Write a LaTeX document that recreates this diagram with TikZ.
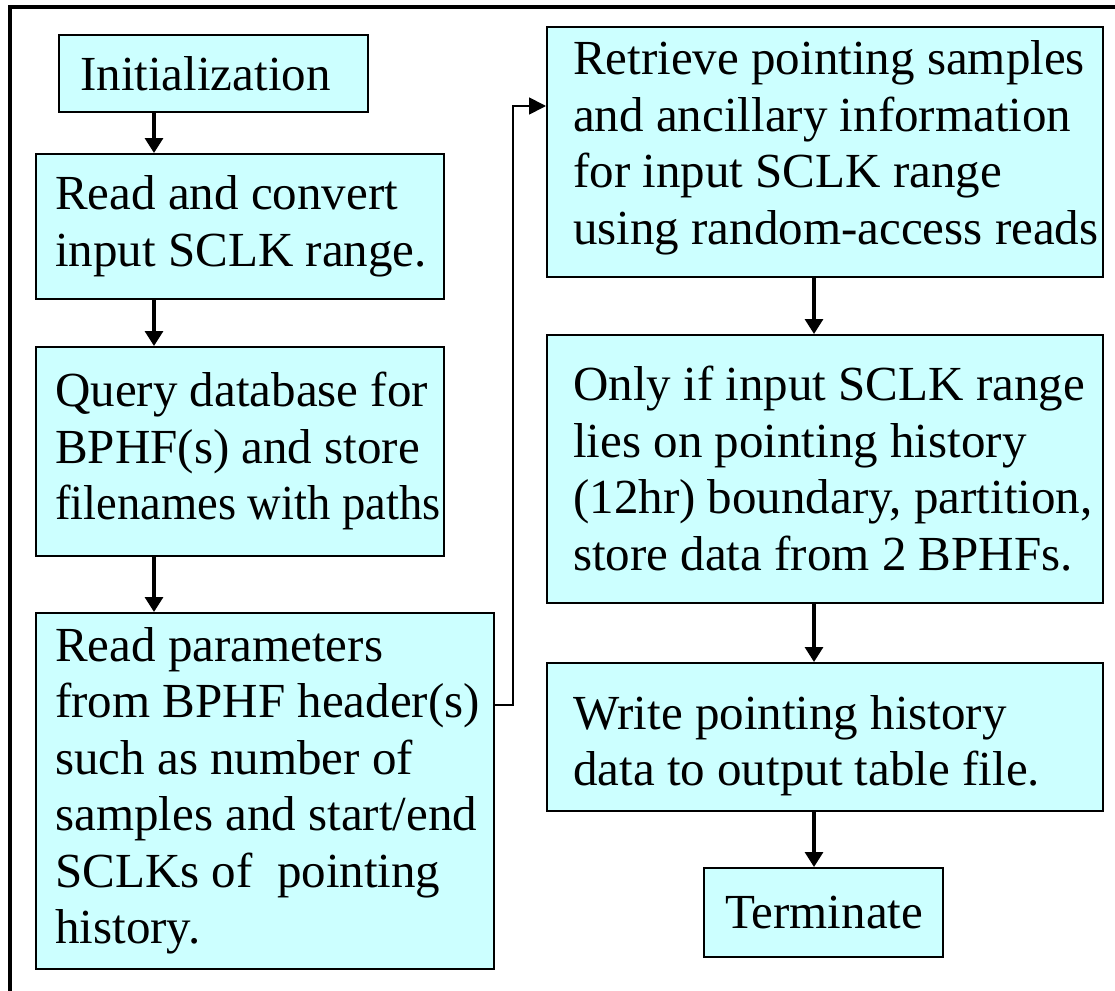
\documentclass[tikz,border=0pt]{standalone}
\usepackage{graphicx}
\usepackage{fontspec}
\setmainfont{Liberation Serif}
\newfontfamily\boxfont{Liberation Serif}
\usetikzlibrary{arrows.meta}
\definecolor{boxcyan}{HTML}{CCFFFF}
\tikzset{
  box/.style={draw=black, fill=boxcyan, line width=1.6pt, anchor=north west, inner sep=0pt},
  txt/.style={anchor=west, align=left, inner sep=0pt, font=\boxfont\fontsize{49}{56.5}\selectfont},
  flow/.style={line width=3.2pt, -{Triangle[length=15pt,width=18pt]}},
  jump/.style={line width=1.8pt, -{Triangle[length=17pt,width=17pt]}},
  frame/.style={line width=3.5pt, line cap=rect}
}
\begin{document}
\begin{tikzpicture}[x=1pt,y=-1pt]
\useasboundingbox (0,0) rectangle (1115,990);
% outer frame (only its top and left sides fall inside the page)
\draw[frame] (10,995) -- (10,7) -- (1120,7);

% left column
\node[box, minimum width=309pt, minimum height=77pt]  (b1) at (58,34)  {};
\node[box, minimum width=408pt, minimum height=145pt] (b2) at (35,153) {};
\node[box, minimum width=408pt, minimum height=209pt] (b3) at (35,346) {};
\node[box, minimum width=458pt, minimum height=356pt] (b4) at (35,612) {};
% right column
\node[box, minimum width=556pt, minimum height=250pt] (b5) at (546,26)  {};
\node[box, minimum width=556pt, minimum height=268pt] (b6) at (546,334) {};
\node[box, minimum width=556pt, minimum height=148pt] (b7) at (546,662) {};
\node[box, minimum width=239pt, minimum height=89pt]  (b8) at (703,867) {};

% box texts
\node[txt, xshift=22pt] (t1) at (b1.west) {Initialization};
\node[txt, xshift=20pt] (t2) at (b2.west) {Read and convert\\input SCLK range.};
\node[txt, xshift=20pt] (t3) at (b3.west) {Query database for\\BPHF(s) and store\\\scalebox{0.95}[1]{filenames with paths}};
\node[txt, xshift=20pt] (t4) at (b4.west) {Read parameters\\from BPHF header(s)\\such as number of\\samples and start/end\\SCLKs of~~pointing\\history.};
\node[txt, xshift=27pt, yshift=4pt] (t5) at (b5.west) {Retrieve pointing samples\\and ancillary information\\for input SCLK range\\using random-access reads};
\node[txt, xshift=27pt] (t6) at (b6.west) {Only if input SCLK range\\lies on pointing history\\(12hr) boundary, partition,\\store data from 2 BPHFs.};
\node[txt, xshift=27pt, yshift=-9pt] (t7) at (b7.west) {Write pointing history\\data to output table file.};
\node[txt, xshift=22pt] (t8) at (b8.west) {Terminate};

% arrow columns
\coordinate (lc) at (154,0);
\coordinate (rc) at (814,0);
\draw[flow] (b1.south -| lc) -- (b2.north -| lc);
\draw[flow] (b2.south -| lc) -- (b3.north -| lc);
\draw[flow] (b3.south -| lc) -- (b4.north -| lc);
\draw[flow] (b5.south -| rc) -- (b6.north -| rc);
\draw[flow] (b6.south -| rc) -- (b7.north -| rc);
\draw[flow] (b7.south -| rc) -- (b8.north -| rc);

% link from the left column up to the right column
\coordinate (j1) at (513,705);
\coordinate (j2) at (513,106);
\draw[jump] (b4.east |- j1) -- (j1) -- (j2) -- (b5.west |- j2);
\end{tikzpicture}
\end{document}
